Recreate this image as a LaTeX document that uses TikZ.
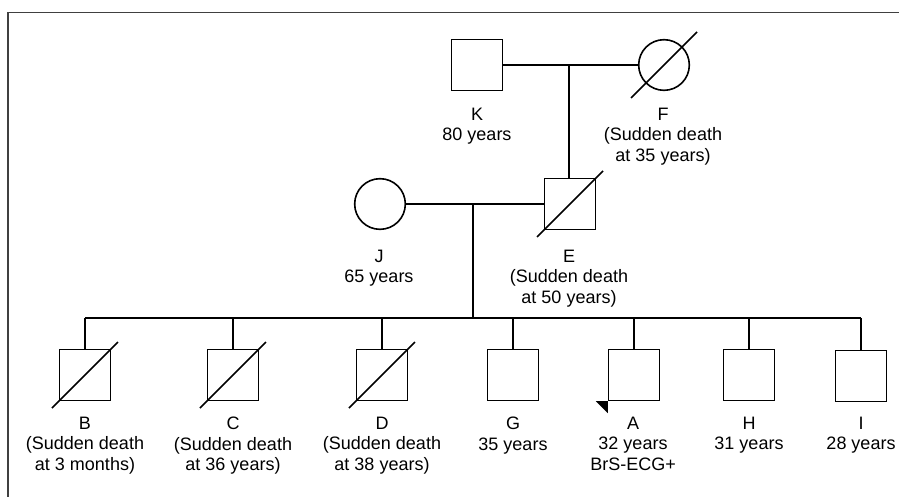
\documentclass[tikz,border=0pt]{standalone}
\usepackage{fontspec}
\setmainfont{Liberation Sans}
\begin{document}
\begin{tikzpicture}[x=0.75pt,y=-0.75pt,line width=1.2pt,
  male/.style={draw, rectangle, minimum size=38pt, inner sep=0pt},
  female/.style={draw, circle, minimum size=38pt, inner sep=0pt},
  txt/.style={anchor=north, align=center, inner sep=0pt, font=\fontsize{13.5}{15.6}\selectfont}]
\useasboundingbox (0,0) rectangle (899,497);
\draw[black!75, line width=1.1pt] (899,12.5) -- (8,12.5) -- (8,497);
% first generation
\node[male] (K) at (477,65){};
\node[female] (F) at (664,65){};
\node[txt] (tK) at (477,107){K\\80 years};
\node[txt] (tF) at (663,107){F\\(Sudden death\\at 35 years)};
\draw[](K) -- (F);
\coordinate (m1) at (569,65);
% second generation
\node[female] (J) at (380,204){};
\node[male] (E) at (570,204){};
\node[txt] (tJ) at (379,249){J\\65 years};
\node[txt] (tE) at (569,249){E\\(Sudden death\\at 50 years)};
\draw[](m1) -- (m1 |- E.north);
\draw[](J) -- (E);
\coordinate (m2) at (473,204);
\coordinate (s) at (473,318);
\draw[](m2) -- (s);
% third generation
\node[male] (B) at (85,375){};
\node[male] (C) at (233,375){};
\node[male] (D) at (382,375){};
\node[male] (G) at (513,375){};
\node[male] (A) at (634,375){};
\node[male] (H) at (749,375){};
\node[male] (I) at (861,376){};
\node[txt] (tB) at (85,416){B\\(Sudden death\\at 3 months)};
\node[txt] (tC) at (233,416){C\\(Sudden death\\at 36 years)};
\node[txt] (tD) at (382,416){D\\(Sudden death\\at 38 years)};
\node[txt] (tG) at (513,416){G\\35 years};
\node[txt] (tA) at (633,416){A\\32 years\\BrS-ECG+};
\node[txt] (tH) at (749,416){H\\31 years};
\node[txt] (tI) at (861,416){I\\28 years};
\draw[](B.north |- s) -- (I.north |- s);
\foreach \c in {B,C,D,G,A,H,I}
  \draw[](\c.north |- s) -- (\c.north);
% deceased
\foreach \c in {F,E,B,C,D}
  \draw[]([shift={(-33,33)}]\c.center) -- ([shift={(33,-33)}]\c.center);
% proband
\fill[]([shift={(-12,0)}]A.south west) -- (A.south west) -- ([shift={(0,12)}]A.south west) -- cycle;
\end{tikzpicture}
\end{document}
